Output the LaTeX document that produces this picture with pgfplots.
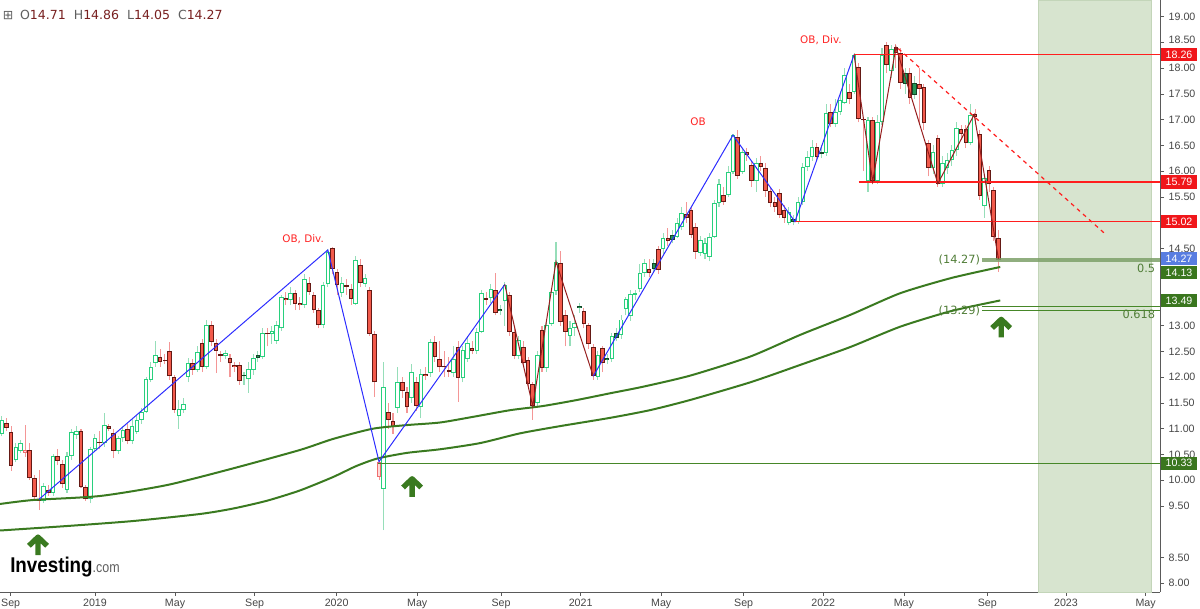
\documentclass[border=0pt]{standalone}
\usepackage{graphicx}
\usepackage{pgfplots}
\pgfplotsset{compat=1.18}
\usepackage{pgfplotstable}
\usepackage{fontspec}
\setmainfont{Liberation Sans}
\newfontfamily\dejavu{DejaVu Sans}

\definecolor{upEdge}{RGB}{40,208,125}
\definecolor{upWick}{RGB}{150,222,185}
\definecolor{dnFill}{RGB}{242,90,75}
\definecolor{dnEdge}{RGB}{100,25,20}
\definecolor{dnWick}{RGB}{244,150,150}
\definecolor{ufFill}{RGB}{35,150,85}
\definecolor{ufEdge}{RGB}{20,70,40}
\definecolor{pkEdge}{RGB}{240,110,110}
\definecolor{pkFill}{RGB}{255,218,218}
\definecolor{maGreen}{RGB}{58,122,32}
\definecolor{zzBlue}{RGB}{45,45,255}
\definecolor{zzBrown}{RGB}{150,30,30}
\definecolor{lvlRed}{RGB}{255,30,30}
\definecolor{lvlGreen}{RGB}{70,135,40}
\definecolor{fibGreen}{RGB}{125,160,105}
\definecolor{fibText}{RGB}{80,125,55}
\definecolor{shade}{RGB}{215,228,207}
\definecolor{shadeEdge}{RGB}{195,213,185}
\definecolor{axisgray}{RGB}{90,90,90}
\definecolor{labelgray}{RGB}{70,70,70}
\definecolor{boxRed}{RGB}{240,22,26}
\definecolor{boxBlue}{RGB}{88,125,225}
\definecolor{boxGreen}{RGB}{58,118,30}
\definecolor{annRed}{RGB}{255,35,35}
\definecolor{ohlcGray}{RGB}{95,95,95}
\definecolor{ohlcRed}{RGB}{120,32,32}

\pgfdeclareplotmark{fatup}{%
  \pgfsetlinewidth{4pt}%
  \pgfsetroundjoin
  \pgfpathmoveto{\pgfpoint{-6.8pt}{-0.6pt}}%
  \pgfpathlineto{\pgfpoint{0pt}{5.9pt}}%
  \pgfpathlineto{\pgfpoint{6.8pt}{-0.6pt}}%
  \pgfpathmoveto{\pgfpoint{0pt}{5.9pt}}%
  \pgfpathlineto{\pgfpoint{0pt}{-7.6pt}}%
  \pgfusepathqstroke
}

\pgfplotstableread{
i o h l c t
-1 10.90 11.25 10.85 11.17 1
0 11.12 11.20 10.95 11.01 2
1 10.93 11.05 10.18 10.28 2
2 10.40 10.72 10.35 10.65 1
3 10.57 10.78 10.52 10.73 1
4 10.59 11.07 10.45 10.53 4
5 10.59 10.72 10.00 10.05 2
6 10.05 10.10 9.62 9.68 2
7 9.63 10.20 9.42 9.60 2
8 9.60 9.95 9.55 9.89 1
9 9.81 9.90 9.70 9.76 2
10 9.76 10.50 9.70 10.46 1
11 10.46 10.60 10.30 10.38 2
12 10.31 10.40 9.85 9.92 2
13 9.81 10.55 9.75 10.46 1
14 10.46 11.00 10.40 10.94 1
15 10.88 11.05 10.80 10.96 1
16 10.95 11.00 9.85 9.87 2
17 9.87 9.90 9.60 9.63 2
18 9.63 10.65 9.55 10.61 1
19 10.61 10.90 10.55 10.81 1
20 10.74 10.95 10.60 10.72 2
21 10.72 11.30 10.65 11.07 1
22 11.05 11.10 10.95 11.00 2
23 10.91 11.00 10.43 10.57 2
24 10.57 10.85 10.50 10.81 1
25 10.81 11.05 10.75 10.97 1
26 11.00 11.10 10.70 10.76 2
27 10.76 11.20 10.70 11.05 1
28 10.94 11.25 10.90 11.17 1
29 11.17 11.40 11.10 11.33 1
30 11.33 12.00 11.30 11.96 1
31 11.95 12.30 11.90 12.19 1
32 12.27 12.71 12.20 12.44 1
33 12.40 12.55 12.20 12.30 2
34 12.33 12.45 12.25 12.31 2
35 12.51 12.69 11.95 12.02 2
36 12.01 12.05 11.30 11.36 2
37 11.25 11.55 11.00 11.38 1
38 11.36 11.60 11.30 11.47 1
39 12.01 12.37 11.90 12.27 1
40 12.27 12.35 12.05 12.14 2
41 12.14 12.60 12.10 12.49 1
42 12.66 12.75 12.10 12.20 2
43 12.20 13.12 12.15 13.01 1
44 13.01 13.10 12.60 12.69 2
45 12.67 12.75 12.08 12.51 2
46 12.44 12.50 12.30 12.42 2
47 12.41 12.52 12.35 12.46 1
48 12.37 12.45 12.00 12.27 2
49 12.24 12.30 12.10 12.20 2
50 12.23 12.30 11.85 11.92 2
51 12.02 12.10 11.85 12.03 3
52 11.96 12.30 11.70 12.15 1
53 12.14 12.45 12.05 12.37 1
54 12.38 12.50 12.30 12.44 3
55 12.40 12.95 12.35 12.86 1
56 12.86 12.95 12.60 12.83 2
57 12.83 13.00 12.65 12.90 1
58 12.71 13.10 12.65 13.01 1
59 12.95 13.60 12.90 13.56 1
60 13.54 13.65 13.40 13.49 2
61 13.50 13.75 13.40 13.63 1
62 13.63 13.70 13.30 13.42 2
63 13.44 13.55 13.30 13.40 2
64 13.40 14.00 13.35 13.90 1
65 13.83 13.95 13.60 13.65 2
66 13.60 13.65 13.25 13.30 2
67 13.30 13.35 12.95 13.01 2
68 13.01 13.85 12.95 13.79 1
69 13.81 14.48 13.75 14.44 1
70 14.50 14.52 14.00 14.11 2
71 14.05 14.10 13.60 13.79 2
72 13.63 13.95 13.55 13.82 1
73 13.78 13.90 13.60 13.76 2
74 13.72 13.80 13.40 13.51 2
75 13.43 14.35 13.40 14.27 1
76 14.18 14.30 13.75 13.82 2
77 13.81 14.00 13.75 13.92 1
78 13.70 13.75 12.80 12.84 2
79 12.84 12.90 11.62 11.90 2
80 10.36 10.40 10.00 10.07 4
81 9.83 12.30 9.03 11.80 1
82 11.32 11.50 11.00 11.17 2
83 11.15 11.30 10.90 11.04 2
84 11.40 12.20 11.30 11.90 1
85 11.90 12.00 11.60 11.74 2
86 11.72 11.80 11.30 11.42 2
87 11.59 12.25 11.50 12.11 1
88 11.90 12.00 11.35 11.45 2
89 11.43 12.15 11.20 12.07 1
90 12.07 12.20 11.95 12.03 2
91 12.08 12.75 12.00 12.68 1
92 12.68 12.80 12.30 12.40 2
93 12.35 12.70 12.10 12.19 2
94 12.20 12.50 12.00 12.19 2
95 12.12 12.40 12.00 12.11 2
96 12.08 12.60 12.00 12.35 1
97 12.59 12.70 11.52 11.98 2
98 11.98 12.60 11.90 12.53 1
99 12.35 12.80 12.30 12.67 1
100 12.56 12.70 12.45 12.51 2
101 12.51 12.95 12.45 12.88 1
102 12.88 13.70 12.85 13.64 1
103 13.53 13.65 13.40 13.50 2
104 13.53 13.80 13.45 13.71 1
105 13.70 14.02 13.20 13.25 2
106 13.28 13.40 13.20 13.32 3
107 13.47 13.85 13.00 13.79 1
108 13.60 13.65 12.80 12.88 2
109 12.88 12.95 12.35 12.42 2
110 12.42 12.80 12.35 12.72 1
111 12.59 12.70 12.20 12.27 2
112 12.33 12.40 11.80 11.87 2
113 11.87 11.90 11.17 11.44 2
114 11.49 12.50 11.45 12.44 1
115 12.91 13.00 12.10 12.17 2
116 12.17 13.10 12.10 13.01 1
117 13.03 13.70 13.00 13.66 1
118 13.68 14.63 13.60 14.24 1
119 14.21 14.45 13.00 13.08 2
120 13.21 13.30 12.60 12.88 2
121 12.80 13.10 12.60 12.95 1
122 12.95 13.20 12.80 13.05 1
123 13.34 13.45 13.25 13.39 3
124 13.29 13.35 12.95 13.03 2
125 13.01 13.05 12.55 12.64 2
126 12.59 12.65 11.95 12.02 2
127 12.01 12.50 11.95 12.43 1
128 12.56 12.60 12.10 12.27 2
129 12.33 12.45 12.25 12.37 3
130 12.35 12.85 12.30 12.79 1
131 12.77 12.95 12.70 12.85 3
132 12.81 13.20 12.75 13.12 1
133 13.32 13.55 13.20 13.51 1
134 13.19 13.70 13.10 13.61 1
135 13.60 13.70 13.50 13.62 1
136 13.71 14.20 13.65 14.02 1
137 14.02 14.30 13.95 14.21 1
138 14.11 14.30 13.95 14.03 2
139 14.11 14.30 14.05 14.21 3
140 14.48 14.55 14.00 14.08 2
141 14.48 14.80 14.40 14.71 1
142 14.71 14.90 14.55 14.64 2
143 14.66 14.85 14.60 14.77 3
144 14.73 15.10 14.70 15.00 1
145 14.91 15.30 14.85 15.19 1
146 15.17 15.40 15.00 15.10 2
147 15.25 15.30 14.70 14.76 2
148 14.92 15.00 14.30 14.44 2
149 14.42 14.75 14.35 14.66 1
150 14.40 14.70 14.30 14.60 1
151 14.34 14.80 14.25 14.73 1
152 14.73 15.45 14.70 15.39 1
153 15.38 15.85 15.30 15.75 1
154 15.54 15.70 15.35 15.40 2
155 15.54 16.10 15.50 15.99 1
156 15.99 16.72 15.95 16.70 1
157 16.67 16.80 15.85 15.91 2
158 15.99 16.45 15.95 16.38 1
159 16.38 16.45 16.20 16.31 2
160 16.12 16.20 15.70 15.81 2
161 15.81 16.25 15.60 16.15 1
162 16.15 16.30 16.00 16.09 2
163 16.06 16.15 15.50 15.62 2
164 15.62 15.70 15.30 15.38 2
165 15.40 15.50 15.20 15.31 2
166 15.57 15.65 15.10 15.15 2
167 15.25 15.35 15.00 15.10 2
168 15.00 15.30 14.95 15.21 1
169 15.02 15.15 14.95 15.08 3
170 15.02 15.50 14.98 15.41 1
171 15.41 16.15 15.35 16.09 1
172 16.09 16.40 16.00 16.27 1
173 16.27 16.60 16.20 16.46 1
174 16.46 16.55 16.20 16.28 2
175 16.34 16.50 16.25 16.36 3
176 16.35 17.30 16.30 17.12 1
177 17.15 17.30 16.85 16.92 2
178 16.92 17.40 16.85 17.15 1
179 17.15 17.55 17.10 17.38 1
180 17.32 18.00 17.30 17.87 1
181 17.54 17.70 17.30 17.41 2
182 17.54 18.30 17.50 18.26 1
183 18.03 18.10 16.95 17.01 2
184 17.01 17.05 16.00 16.99 2
185 15.80 17.05 15.60 16.99 1
186 16.99 17.05 15.75 15.80 2
187 15.80 17.10 15.75 16.96 1
188 16.96 18.40 16.90 18.26 1
189 18.45 18.50 17.90 18.06 2
190 17.95 18.45 17.80 18.37 1
191 18.41 18.47 18.00 18.29 2
192 18.29 18.40 17.60 17.72 2
193 17.69 18.00 17.50 17.90 3
194 17.91 18.00 17.30 17.43 2
195 17.48 17.85 17.40 17.71 3
196 17.70 18.00 16.90 17.60 2
197 17.63 17.70 16.80 16.93 2
198 16.55 16.60 15.90 16.06 2
199 16.06 16.50 15.95 16.38 1
200 16.64 16.70 15.70 15.76 2
201 15.76 16.30 15.70 16.15 1
202 16.06 16.35 15.95 16.22 1
203 16.22 16.50 16.10 16.41 1
204 16.41 16.95 16.30 16.83 1
205 16.81 16.90 16.60 16.72 2
206 16.81 16.90 16.45 16.55 2
207 16.54 17.30 16.50 17.09 1
208 17.11 17.20 16.90 17.06 2
209 16.72 16.80 15.45 15.52 2
210 15.32 15.95 15.10 15.86 1
211 16.02 16.10 15.60 15.75 2
212 15.63 15.70 14.65 14.73 2
213 14.71 14.86 14.05 14.27 2
}\candles

\pgfplotstableread{
x y
-1.39 9.538
5.7 9.615
20.1 9.693
34.5 9.906
48.7 10.23
63.0 10.586
70.1 10.80
78.7 11.00
86.0 11.07
93.1 11.12
100.2 11.23
108.2 11.36
115.2 11.44
122.5 11.557
129.6 11.687
136.7 11.815
146.8 12.03
159.7 12.40
170.4 12.82
181.2 13.21
191.9 13.63
202.9 13.926
213.4 14.14
}\maUpper

\pgfplotstableread{
x y
-1.39 9.023
13.0 9.11
27.2 9.207
41.6 9.344
48.7 9.45
55.9 9.60
63.0 9.80
70.1 10.06
75.0 10.27
79.6 10.42
86.0 10.53
93.1 10.60
101.7 10.72
110.3 10.91
118.9 11.05
129.6 11.21
138.2 11.36
146.8 11.557
159.7 11.90
170.4 12.237
181.2 12.586
191.9 12.98
202.9 13.285
213.4 13.49
}\maLower

\newcommand{\wicks}[2]{%
\addplot[draw=none, no markers, forget plot,
  restrict expr to domain={\thisrow{t}}{#1},
  error bars/.cd, y dir=plus, y explicit, error mark=none,
  error bar style={line width=0.8pt, draw=#2, solid}]
  table[x=i, y=l, y error plus expr={\thisrow{h}-\thisrow{l}}] {\candles};}

\newcommand{\bodies}[3]{%
\addplot[draw=none, no markers, forget plot,
  restrict expr to domain={\thisrow{t}}{#1},
  error bars/.cd, y dir=plus, y explicit, error mark=none,
  error bar style={line width=3.4pt, draw=#2, solid}]
  table[x=i, y expr={min(\thisrow{o},\thisrow{c})}, y error plus expr={max(abs(\thisrow{c}-\thisrow{o}),0.025)}] {\candles};
\addplot[draw=none, no markers, forget plot,
  restrict expr to domain={\thisrow{t}}{#1},
  error bars/.cd, y dir=plus, y explicit, error mark=none,
  error bar style={line width=1.9pt, draw=#3, solid}]
  table[x=i, y expr={min(\thisrow{o},\thisrow{c})+0.0194}, y error plus expr={max(abs(\thisrow{c}-\thisrow{o})-0.0388,0)}] {\candles};}

\newcommand{\pricebox}[3]{%
\node[fill=#1, text=white, font=\fontsize{8}{9}\selectfont, anchor=west,
  minimum width=27pt, minimum height=10pt, inner sep=0pt, xshift=0.6pt]
  at (axis cs:247.7,#2) {#3};}

\begin{document}
\begin{tikzpicture}
\useasboundingbox (0,0) rectangle (900pt,456.75pt);
\begin{axis}[
  at={(0pt,12.75pt)}, anchor=south west,
  scale only axis, width=870pt, height=444pt,
  xmin=-1.39, xmax=247.7, ymin=7.829, ymax=19.324,
  clip=false,
  axis x line*=bottom, axis y line*=right,
  axis line style={draw=axisgray, line width=0.6pt},
  tick align=outside, major tick length=3pt,
  tick style={draw=axisgray, line width=0.5pt},
  xtick={0.9,19.0,36.2,53.3,70.9,88.2,106.2,123.3,140.6,158.3,175.4,192.7,210.6,227.5,244.6},
  xticklabels={Sep,2019,May,Sep,2020,May,Sep,2021,May,Sep,2022,May,Sep,2023,May},
  ytick={8,8.5,9.5,10,10.5,11,11.5,12,12.5,13,14.5,15.5,16,16.5,17,17.5,18,18.5,19},
  yticklabels={8.00,8.50,9.50,10.00,10.50,11.00,11.50,12.00,12.50,13.00,14.50,15.50,16.00,16.50,17.00,17.50,18.00,\raisebox{4.5pt}{18.50},19.00},
  ticklabel style={font=\fontsize{8}{9}\selectfont, text=labelgray},
  xticklabel style={yshift=1pt},
  yticklabel style={xshift=0pt},
]
% projection zone
\addplot[fill=shade, draw=shadeEdge, line width=0.5pt, forget plot]
  coordinates {(221.5,7.829) (245.8,7.829) (245.8,19.324) (221.5,19.324)} -- cycle;

% candles
\wicks{1:1}{upWick}
\wicks{3:3}{upWick}
\wicks{2:2}{dnWick}
\wicks{4:4}{dnWick}
\bodies{1:1}{upEdge}{white}
\bodies{2:2}{dnEdge}{dnFill}
\bodies{3:3}{ufEdge}{ufFill}
\bodies{4:4}{pkEdge}{pkFill}

% moving averages
\addplot[maGreen, line width=1.5pt, smooth, tension=0.4, mark=none] table[x=x,y=y] {\maUpper};
\addplot[maGreen, line width=1.5pt, smooth, tension=0.4, mark=none] table[x=x,y=y] {\maLower};

% horizontal levels
\addplot[lvlRed, line width=0.85pt, mark=none] coordinates {(182,18.26) (247.7,18.26)};
\addplot[lvlRed, line width=0.85pt, mark=none] coordinates {(183,15.79) (247.7,15.79)};
\addplot[lvlRed, line width=0.85pt, mark=none] coordinates {(169.2,15.02) (247.7,15.02)};
\addplot[lvlGreen, line width=0.85pt, mark=none] coordinates {(79.8,10.33) (247.7,10.33)};
\addplot[fibGreen, line width=3pt, opacity=0.85, mark=none] coordinates {(209.5,14.27) (247.7,14.27)};
\addplot[lvlGreen, line width=0.8pt, mark=none] coordinates {(209.5,13.37) (247.7,13.37)};
\addplot[lvlGreen, line width=0.8pt, mark=none] coordinates {(209.5,13.30) (247.7,13.30)};

% zigzags
\addplot[zzBlue, line width=0.75pt, mark=none] coordinates {(7,9.63) (69,14.47) (80,10.36) (107,13.80)};
\addplot[zzBrown, line width=0.75pt, mark=none] coordinates {(107,13.80) (113,11.44) (118,14.24) (126,12.02)};
\addplot[zzBlue, line width=0.75pt, mark=none] coordinates {(126,12.02) (156,16.70) (169.3,15.02) (182,18.26)};
\addplot[zzBrown, line width=0.75pt, mark=none] coordinates {(182,18.26) (186,15.80) (191,18.41) (200,15.76) (207.8,17.10) (213,14.30)};
\addplot[lvlRed, line width=0.9pt, dash pattern=on 3pt off 3pt, mark=none] coordinates {(191.5,18.38) (235.7,14.80)};

% arrows
\addplot[only marks, mark=fatup, mark options={draw=maGreen}, color=maGreen] coordinates {(6.77,8.742) (87.1,9.874) (213.6,12.97)};

% annotations
\node[text=annRed, font=\dejavu\fontsize{7.8}{9}\selectfont] at (axis cs:63.7,14.683) {OB, Div.};
\node[text=annRed, font=\dejavu\fontsize{7.8}{9}\selectfont] at (axis cs:148.5,16.955) {OB};
\node[text=annRed, font=\dejavu\fontsize{7.8}{9}\selectfont] at (axis cs:174.9,18.547) {OB, Div.};
\node[text=fibText, font=\dejavu\fontsize{8.5}{10}\selectfont, anchor=east, inner sep=0pt] at (axis cs:209.1,14.27) {(14.27)};
\node[text=fibText, font=\dejavu\fontsize{8.5}{10}\selectfont, anchor=east, inner sep=0pt] at (axis cs:246.7,14.12) {0.5};
\node[text=fibText, font=\dejavu\fontsize{8.5}{10}\selectfont, anchor=east, inner sep=0pt] at (axis cs:209.1,13.285) {(13.29)};
\node[text=fibText, font=\dejavu\fontsize{8.5}{10}\selectfont, anchor=east, inner sep=0pt] at (axis cs:246.7,13.22) {0.618};

% price boxes
\pricebox{boxRed}{18.26}{18.26}
\pricebox{boxRed}{15.79}{15.79}
\pricebox{boxRed}{15.02}{15.02}
\pricebox{boxBlue}{14.305}{14.27}
\pricebox{boxGreen}{14.035}{14.13}
\pricebox{boxGreen}{13.49}{13.49}
\pricebox{boxGreen}{10.33}{10.33}
\end{axis}

% OHLC header
\node[anchor=west, inner sep=0pt, font=\dejavu\fontsize{9.4}{11}\selectfont] at (2pt,445.5pt)
  {\textcolor{ohlcGray}{⊞}\hspace{5pt}\textcolor{ohlcGray}{O}\textcolor{ohlcRed}{14.71}\hspace{6pt}\textcolor{ohlcGray}{H}\textcolor{ohlcRed}{14.86}\hspace{6pt}\textcolor{ohlcGray}{L}\textcolor{ohlcRed}{14.05}\hspace{6pt}\textcolor{ohlcGray}{C}\textcolor{ohlcRed}{14.27}};

% logo
\node[anchor=base west, inner sep=0pt] at (7.5pt,27pt)
  {\scalebox{0.88}[1]{\fontsize{16}{16}\selectfont\bfseries Investing}\textcolor{ohlcGray}{\scalebox{0.85}[1]{\fontsize{11}{12}\selectfont .com}}};
\end{tikzpicture}
\end{document}
